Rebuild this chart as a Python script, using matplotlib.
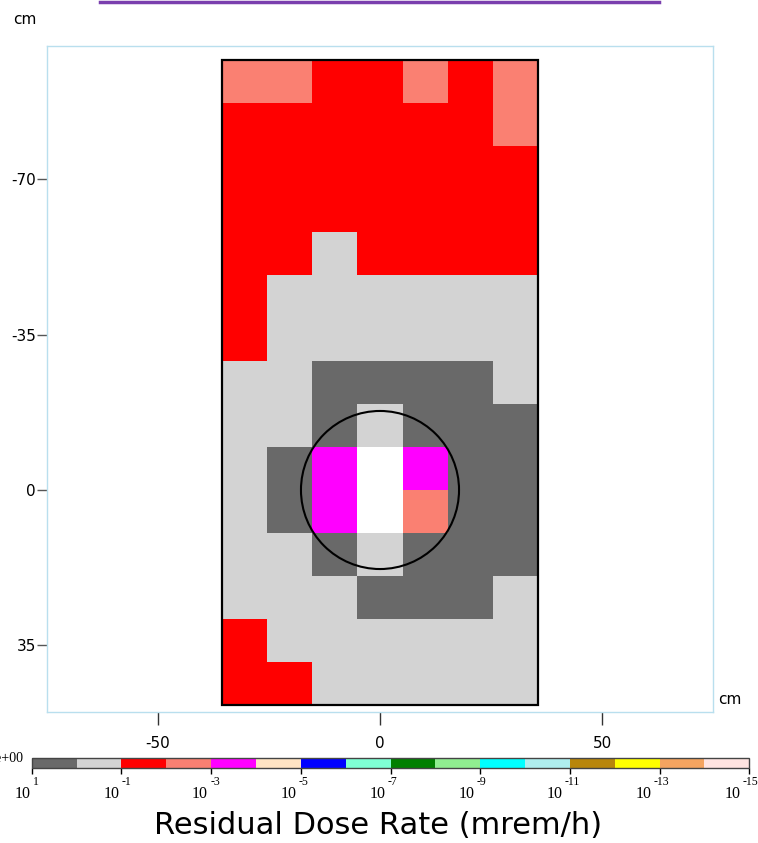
import numpy as np
import matplotlib
matplotlib.use("Agg")
import matplotlib.pyplot as plt
from matplotlib.colors import ListedColormap, BoundaryNorm
from matplotlib.patches import Rectangle, Circle
from matplotlib.lines import Line2D

plt.rcParams['font.family'] = ['DejaVu Sans']
plt.rcParams['axes.unicode_minus'] = False

# dose rate per mesh cell (mrem/h), rows top -> bottom, cols left -> right
dose = [
    [4e-3, 4e-3, 4e-2, 4e-2, 4e-3, 4e-2, 4e-3],
    [4e-2, 4e-2, 4e-2, 4e-2, 4e-2, 4e-2, 4e-3],
    [4e-2, 4e-2, 4e-2, 4e-2, 4e-2, 4e-2, 4e-2],
    [4e-2, 4e-2, 4e-2, 4e-2, 4e-2, 4e-2, 4e-2],
    [4e-2, 4e-2, 0.4, 4e-2, 4e-2, 4e-2, 4e-2],
    [4e-2, 0.4, 0.4, 0.4, 0.4, 0.4, 0.4],
    [4e-2, 0.4, 0.4, 0.4, 0.4, 0.4, 0.4],
    [0.4, 0.4, 3.0, 3.0, 3.0, 3.0, 0.4],
    [0.4, 0.4, 3.0, 0.4, 3.0, 3.0, 3.0],
    [0.4, 3.0, 4e-4, 20.0, 4e-4, 3.0, 3.0],
    [0.4, 3.0, 4e-4, 20.0, 4e-3, 3.0, 3.0],
    [0.4, 0.4, 3.0, 0.4, 3.0, 3.0, 3.0],
    [0.4, 0.4, 0.4, 3.0, 3.0, 3.0, 0.4],
    [4e-2, 0.4, 0.4, 0.4, 0.4, 0.4, 0.4],
    [4e-2, 4e-2, 0.4, 0.4, 0.4, 0.4, 0.4],
]

# mesh geometry (cm)
x_edges = np.linspace(-35.6, 35.6, 8)
y_edges = np.linspace(-96.8, 48.4, 16)
radius = 17.8

# one colour per decade, from 1e-15 up to 1e+1
bin_colors = ['#ffe4e1', '#f4a460', '#ffff00', '#b8860b', '#afeeee', '#00ffff',
              '#90ee90', '#008000', '#7fffd4', '#0000ff', '#ffe4c4', '#ff00ff',
              '#fa8072', '#ff0000', '#d3d3d3', '#696969']
decades = np.arange(-15, 2)
cbar_ticks = [1, -1, -3, -5, -7, -9, -11, -13, -15]

cmap = ListedColormap(bin_colors)
cmap.set_over('white')
norm = BoundaryNorm(decades, cmap.N)

fig = plt.figure(figsize=(7.58, 8.43), dpi=100)
ax = fig.add_axes([47/758, 1 - 712/843, 666/758, 666/843])

mesh = ax.pcolormesh(x_edges, y_edges, np.log10(np.array(dose)), cmap=cmap, norm=norm)
ax.add_patch(Rectangle((x_edges[0], y_edges[0]), x_edges[-1] - x_edges[0],
                       y_edges[-1] - y_edges[0], fill=False, ec='black', lw=1.6))
ax.add_patch(Circle((0, 0), radius, fill=False, ec='black', lw=1.5))

ax.set_xlim(-75, 75)
ax.set_ylim(50, -100)
for s in ax.spines.values():
    s.set_color('#b9dfee')
    s.set_linewidth(1.0)

ax.set_xticks([-50, 0, 50])
ax.set_yticks([-70, -35, 0, 35])
ax.tick_params(axis='x', length=9, width=1, color='#333333', pad=8, labelsize=11)
ax.tick_params(axis='y', length=7, width=1, color='#555555', pad=1, labelsize=11)

fig.text(25/758, 1 - 20/843, 'cm', ha='center', va='center', fontsize=11)
fig.text(730/758, 1 - 700/843, 'cm', ha='center', va='center', fontsize=11)

# colour scale
cax = fig.add_axes([31.7/758, 1 - 767.7/843, 717.6/758, 9.7/843])
cb = fig.colorbar(mesh, cax=cax, orientation='horizontal', ticks=cbar_ticks,
                  drawedges=True, extend='neither')
cax.invert_xaxis()
cb.outline.set_edgecolor('#444444')
cb.outline.set_linewidth(1.0)
cb.dividers.set_color('#222222')
cb.dividers.set_linewidth(1.0)
cax.set_xticklabels([])
cax.tick_params(axis='x', length=4, width=1)
cax.minorticks_off()

# "10" just left of each tick, exponent raised to its right
for i, t in enumerate(cbar_ticks):
    dx = -1 - i
    cax.annotate('10', xy=(t, 0), xycoords=('data', 'axes fraction'),
                 xytext=(dx, -30), textcoords='offset pixels', ha='right',
                 va='baseline', fontsize=11.5, family='Liberation Serif',
                 annotation_clip=False)
    cax.annotate('%d' % t, xy=(t, 0), xycoords=('data', 'axes fraction'),
                 xytext=(dx + 2, -17), textcoords='offset pixels', ha='left',
                 va='baseline', fontsize=8.5, family='Liberation Serif',
                 annotation_clip=False)

fig.text(24/758, 1 - 758/843, '1.00e+00', ha='right', va='center', fontsize=10,
         family='Liberation Serif')
fig.text(378/758, 1 - 825/843, 'Residual Dose Rate (mrem/h)', ha='center',
         va='center', fontsize=22)

# header rule along the top edge
fig.add_artist(Line2D([100/758, 659/758], [1 - 1.5/843] * 2, color='#7a3fae', lw=2.5))

fig.savefig('out.png', dpi=100)
